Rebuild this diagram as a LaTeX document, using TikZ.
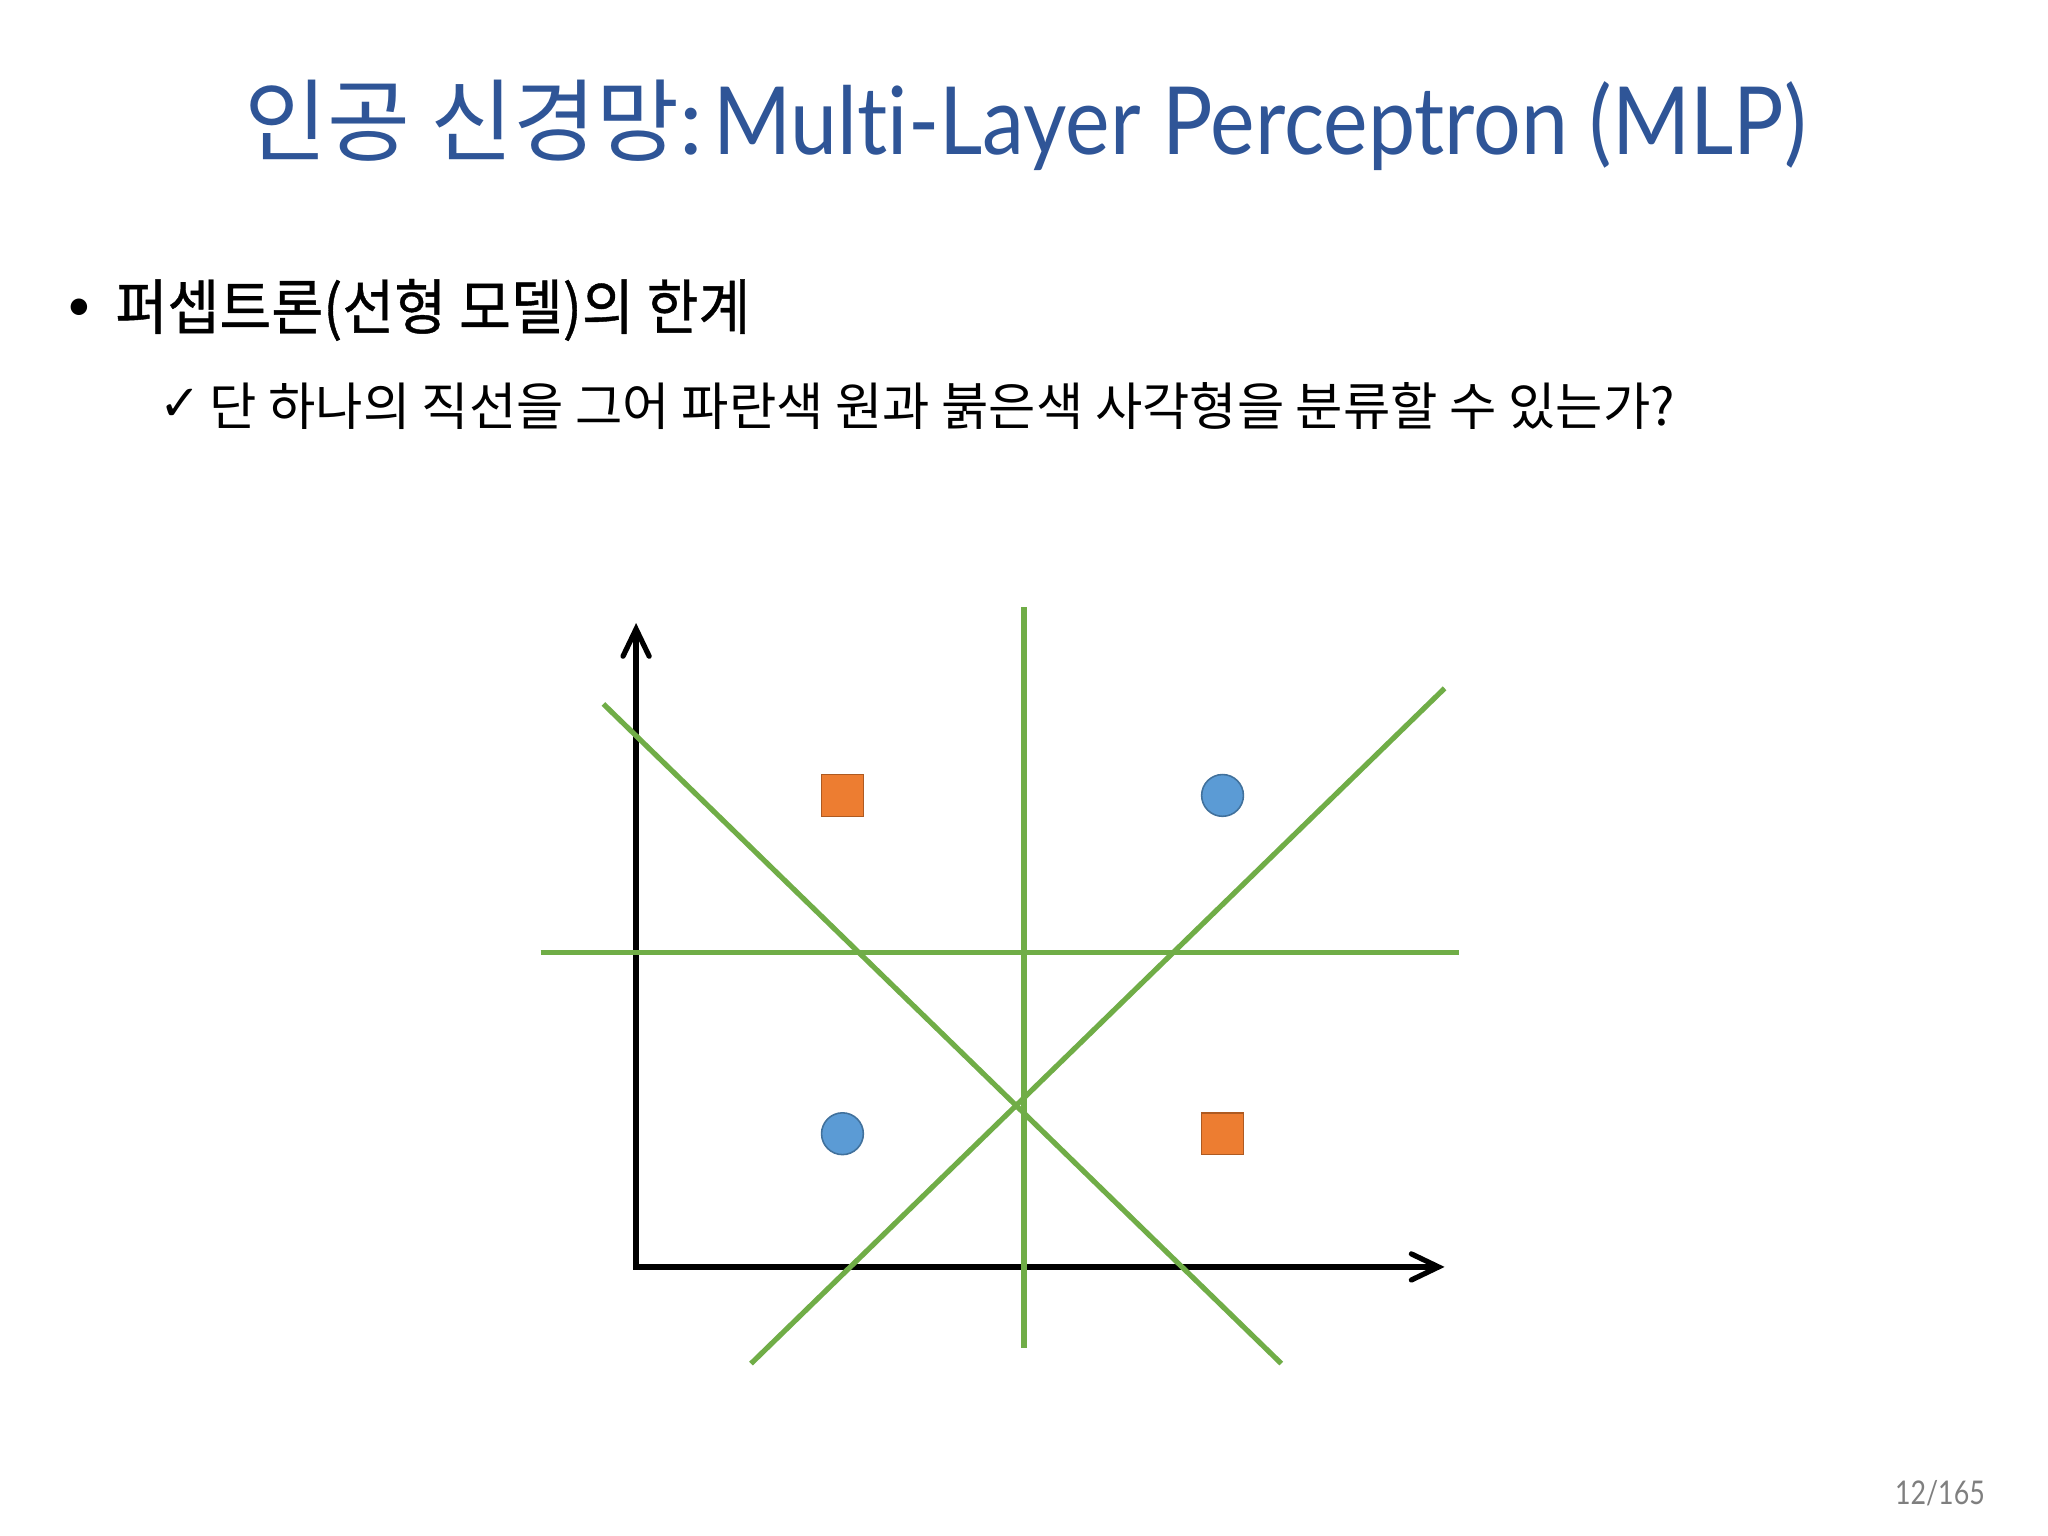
\documentclass[tikz,border=0pt]{standalone}
\usepackage{fontspec}
\setmainfont{Lato}
\newfontfamily\kr{Noto Sans CJK KR}
\newfontfamily\krm[FakeBold=0.7]{Noto Sans CJK KR}
\newfontfamily\latin[Ligatures=NoCommon]{Lato}
\newfontfamily\sym{DejaVu Sans}
\usetikzlibrary{arrows.meta}
\definecolor{titleblue}{RGB}{47,85,151}
\definecolor{lgreen}{RGB}{112,173,71}
\definecolor{sqorange}{RGB}{237,125,49}
\definecolor{sqedge}{RGB}{174,90,33}
\definecolor{cblue}{RGB}{91,155,213}
\definecolor{cedge}{RGB}{65,113,156}
\definecolor{pgray}{RGB}{127,127,127}
\tikzset{
  gline/.style={draw=lgreen, line width=2pt},
  axisline/.style={draw=black, line width=2pt, line join=miter,
     {Straight Barb[length=10.4pt,width=10pt,line cap=round]}-{Straight Barb[length=10.4pt,width=10pt,line cap=round]}},
  sqmark/.style={rectangle, draw=sqedge, fill=sqorange, line width=0.6pt, minimum size=16pt, inner sep=0pt},
  cmark/.style={circle, draw=cedge, fill=cblue, line width=0.6pt, minimum size=16pt, inner sep=0pt},
  txt/.style={inner sep=0pt, anchor=base west}
}
\begin{document}
\begin{tikzpicture}[x=0.5pt,y=-0.5pt]
\useasboundingbox (0,0) rectangle (1568,1176);
\fill[white] (0,0) rectangle (1568,1176);

% title
\node[txt, text=titleblue] (title) at (187,118)
  {\fontsize{34.5}{40}\selectfont\kr 인공 신경망\latin\fontsize{36}{40}\selectfont :\hspace{4pt}\scalebox{0.895}[1]{Multi-Layer Perceptron (MLP)}};

% bullet line
\node[inner sep=0pt] (bul) at (61,237) {\fontsize{17}{20}\selectfont\latin •};
\node[txt] (head) at (88,252) {\scalebox{0.94}[1]{\fontsize{23}{28}\selectfont\krm 퍼셉트론(선형 모델)의 한계}};

% sub line
\node[inner sep=0pt] (chk) at (138,310) {\fontsize{19}{22}\selectfont\sym ✓};
\node[txt] (sub) at (160,326) {\fontsize{19.7}{24}\selectfont\kr 단 하나의 직선을 그어 파란색 원과 붉은색 사각형을 분류할 수 있는가?};

% page number
\node[inner sep=0pt, anchor=base east, text=pgray] (pg) at (1520,1152) {\scalebox{0.82}[1]{\fontsize{12.5}{14}\selectfont\latin 12/165}};

% axes
\coordinate (O) at (487,970);
\coordinate (ytip) at (487,477);
\coordinate (xtip) at (1106,970);
\draw[axisline] (ytip) -- (O) -- (xtip);

% green separating lines
\coordinate (v1) at (784,465);   \coordinate (v2) at (784,1032);
\coordinate (h1) at (414,729);   \coordinate (h2) at (1117,729);
\coordinate (d1a) at (462,539);  \coordinate (d1b) at (981,1044);
\coordinate (d2a) at (575,1044); \coordinate (d2b) at (1106,527);
\draw[gline] (v1) -- (v2);
\draw[gline] (h1) -- (h2);
\draw[gline] (d1a) -- (d1b);
\draw[gline] (d2a) -- (d2b);

% data points
\node[sqmark] (sq1) at (645,609) {};
\node[cmark]  (c1)  at (936,609) {};
\node[cmark]  (c2)  at (645,868) {};
\node[sqmark] (sq2) at (936,868) {};
\end{tikzpicture}
\end{document}
